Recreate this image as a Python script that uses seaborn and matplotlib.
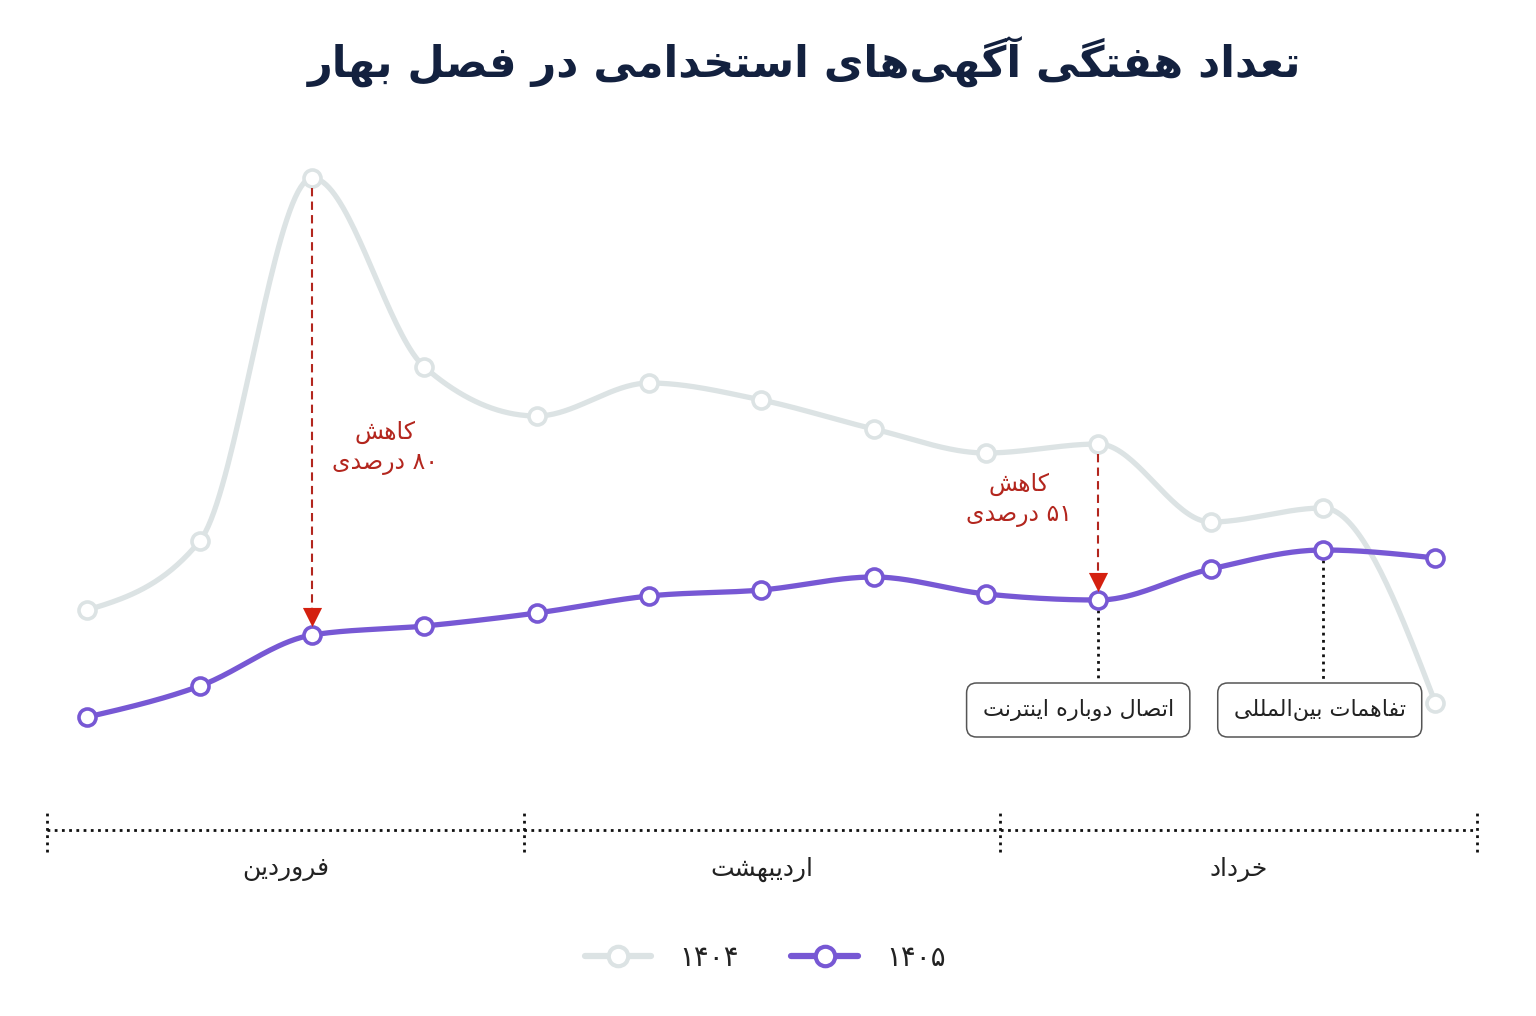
import numpy as np
import matplotlib
matplotlib.use("Agg")
import matplotlib.pyplot as plt
from matplotlib.lines import Line2D
import seaborn as sns

# داده‌ها: تعداد هفتگی آگهی‌ها (۱۳ هفته بهار)
weeks = np.arange(13)
ads_1404 = [1390, 2080, 5710, 3820, 3330, 3660, 3490, 3200, 2960, 3050, 2270, 2410, 460]
ads_1405 = [320, 630, 1140, 1230, 1360, 1530, 1590, 1720, 1550, 1490, 1800, 1990, 1910]
months = ["فروردین", "اردیبهشت", "خرداد"]
year_labels = ["۱۴۰۴", "۱۴۰۵"]
title = "تعداد هفتگی آگهی‌های استخدامی در فصل بهار"

# افت‌ها (اندیس هفته، دو خط متن)
drops = [(2, "کاهش", "۸۰ درصدی"), (9, "کاهش", "۵۱ درصدی")]
# رویدادها (اندیس هفته، متن)
events = [(9, "اتصال دوباره اینترنت"), (11, "تفاهمات بین‌المللی")]

grey = "#dce3e4"
purple = "#7758d4"
red_txt = "#b3261e"
red_head = "#d4200f"
dark = "#222222"

# --- شکل‌دهی ساده حروف فارسی (matplotlib خودش حروف را نمی‌چسباند)
FORMS = {
    0x0622: (0xFE81, 0xFE82),
    0x0627: (0xFE8D, 0xFE8E),
    0x0628: (0xFE8F, 0xFE90, 0xFE91, 0xFE92),
    0x062A: (0xFE95, 0xFE96, 0xFE97, 0xFE98),
    0x062E: (0xFEA5, 0xFEA6, 0xFEA7, 0xFEA8),
    0x062F: (0xFEA9, 0xFEAA),
    0x0631: (0xFEAD, 0xFEAE),
    0x0632: (0xFEAF, 0xFEB0),
    0x0633: (0xFEB1, 0xFEB2, 0xFEB3, 0xFEB4),
    0x0634: (0xFEB5, 0xFEB6, 0xFEB7, 0xFEB8),
    0x0635: (0xFEB9, 0xFEBA, 0xFEBB, 0xFEBC),
    0x0639: (0xFEC9, 0xFECA, 0xFECB, 0xFECC),
    0x0641: (0xFED1, 0xFED2, 0xFED3, 0xFED4),
    0x0644: (0xFEDD, 0xFEDE, 0xFEDF, 0xFEE0),
    0x0645: (0xFEE1, 0xFEE2, 0xFEE3, 0xFEE4),
    0x0646: (0xFEE5, 0xFEE6, 0xFEE7, 0xFEE8),
    0x0647: (0xFEE9, 0xFEEA, 0xFEEB, 0xFEEC),
    0x0648: (0xFEED, 0xFEEE),
    0x06A9: (0xFB8E, 0xFB8F, 0xFB90, 0xFB91),
    0x06AF: (0xFB92, 0xFB93, 0xFB94, 0xFB95),
    0x06CC: (0xFBFC, 0xFBFD, 0xFBFE, 0xFBFF),
}
DIGITS = set("۰۱۲۳۴۵۶۷۸۹0123456789")


def shape_word(word):
    out = []
    for i, c in enumerate(word):
        f = FORMS.get(ord(c))
        if f is None:
            if c != "\u200c":
                out.append(c)
            continue
        prev = FORMS.get(ord(word[i - 1])) if i > 0 else None
        nxt = FORMS.get(ord(word[i + 1])) if i < len(word) - 1 else None
        jp = prev is not None and len(prev) == 4
        jn = len(f) == 4 and nxt is not None
        if jp and jn:
            k = 3
        elif jp:
            k = 1
        elif jn:
            k = 2
        else:
            k = 0
        out.append(chr(f[k]))
    return "".join(out)


def fa(text):
    words = []
    for w in text.split(" "):
        if all(c in DIGITS for c in w):
            words.append(w)
        else:
            words.append(shape_word(w)[::-1])
    return " ".join(words[::-1])


def smooth(x, y, n=40):
    # منحنی یکنوا مثل d3.curveMonotoneX
    x = np.asarray(x, float)
    y = np.asarray(y, float)
    h = np.diff(x)
    s = np.diff(y) / h
    m = np.zeros_like(y)
    for i in range(1, len(y) - 1):
        p = (s[i - 1] * h[i] + s[i] * h[i - 1]) / (h[i - 1] + h[i])
        m[i] = (np.sign(s[i - 1]) + np.sign(s[i])) * min(abs(s[i - 1]), abs(s[i]), 0.5 * abs(p))
    m[0] = (3 * s[0] - m[1]) / 2
    m[-1] = (3 * s[-1] - m[-2]) / 2
    xs, ys = [], []
    for i in range(len(x) - 1):
        t = np.linspace(0, 1, n, endpoint=(i == len(x) - 2))
        h00 = 2 * t**3 - 3 * t**2 + 1
        h10 = t**3 - 2 * t**2 + t
        h01 = -2 * t**3 + 3 * t**2
        h11 = t**3 - t**2
        xs.append(x[i] + t * h[i])
        ys.append(h00 * y[i] + h10 * h[i] * m[i] + h01 * y[i + 1] + h11 * h[i] * m[i + 1])
    return np.concatenate(xs), np.concatenate(ys)


sns.set_theme(style="white")
plt.rcParams["font.family"] = ["DejaVu Sans"]

W, H = 1536, 1016
fig = plt.figure(figsize=(W / 100, H / 100), dpi=100)
fig.patch.set_facecolor("white")

x0, x1 = -0.36, 12.37
ax = fig.add_axes([47 / W, 1 - 760 / H, 1430 / W, 620 / H])
ax.set_xlim(x0, x1)
ax.set_ylim(-110, 6090)
ax.axis("off")

sx, sy = smooth(weeks, ads_1404)
sns.lineplot(x=sx, y=sy, color=grey, linewidth=3.8, estimator=None, sort=False,
             ax=ax, zorder=2, solid_capstyle="round")
sns.scatterplot(x=weeks, y=ads_1404, color="white", edgecolor=grey, linewidth=2.6,
                s=150, ax=ax, zorder=3)
sx, sy = smooth(weeks, ads_1405)
sns.lineplot(x=sx, y=sy, color=purple, linewidth=3.8, estimator=None, sort=False,
             ax=ax, zorder=4, solid_capstyle="round")
sns.scatterplot(x=weeks, y=ads_1405, color="white", edgecolor=purple, linewidth=2.6,
                s=150, ax=ax, zorder=5)

# فلش‌های قرمز افت
for wk, l1, l2 in drops:
    top = ads_1404[wk] - 100
    tip = ads_1405[wk] + 90
    ax.plot([wk, wk], [top, tip + 100], color=red_txt, lw=1.5,
            linestyle=(0, (4, 2.5)), zorder=6)
    ax.scatter([wk], [tip + 90], marker="v", s=190, color=red_head,
               linewidths=0, zorder=7)

ax.text(2.65, 3170, fa(drops[0][1]), ha="center", va="center", fontsize=17, color=red_txt)
ax.text(2.65, 2860, fa(drops[0][2]), ha="center", va="center", fontsize=17, color=red_txt)
ax.text(8.29, 2650, fa(drops[1][1]), ha="center", va="center", fontsize=17, color=red_txt)
ax.text(8.29, 2340, fa(drops[1][2]), ha="center", va="center", fontsize=17, color=red_txt)

# رویدادها
box_x = [8.82, 10.97]
for (wk, label), bx in zip(events, box_x):
    ax.plot([wk, wk], [ads_1405[wk] - 100, 670], color="#111111", lw=2,
            linestyle=(0, (1, 1.6)), zorder=1)
    ax.text(bx, 390, fa(label), ha="center", va="center", fontsize=16, color=dark,
            zorder=8,
            bbox=dict(boxstyle="round,pad=0.72,rounding_size=0.45", fc="white",
                      ec="#555555", lw=1.1))

# محور ماه‌ها
axm = fig.add_axes([47 / W, 1 - 900 / H, 1430 / W, 100 / H])
axm.set_xlim(x0, x1)
axm.set_ylim(0, 1)
axm.axis("off")
edges = np.linspace(x0, x1, len(months) + 1)
axm.plot([x0, x1], [0.7, 0.7], color="#111111", lw=2, linestyle=(0, (1, 1.6)),
         clip_on=False)
for e in edges:
    axm.plot([e, e], [0.48, 0.88], color="#111111", lw=2, linestyle=(0, (1, 1.6)),
             clip_on=False)
for i, name in enumerate(months):
    axm.text((edges[i] + edges[i + 1]) / 2, 0.31, fa(name), ha="center", va="center",
             fontsize=18, color=dark)

# عنوان
fig.text(805 / W, 1 - 62 / H, fa(title), ha="center", va="center", fontsize=31,
         fontweight="bold", color="#13213f")

# راهنما
handles = [
    Line2D([], [], color=grey, lw=4.5, marker="o", markersize=14,
           markerfacecolor="white", markeredgecolor=grey, markeredgewidth=3),
    Line2D([], [], color=purple, lw=4.5, marker="o", markersize=14,
           markerfacecolor="white", markeredgecolor=purple, markeredgewidth=3),
]
fig.legend(handles, [fa(t) for t in year_labels], loc="center",
           bbox_to_anchor=(0.498, 1 - 958 / H), ncol=2, frameon=False,
           fontsize=20, handlelength=2.4, columnspacing=1.9, handletextpad=1.0,
           labelcolor=dark)

fig.savefig("out.png", dpi=100, facecolor="white")
